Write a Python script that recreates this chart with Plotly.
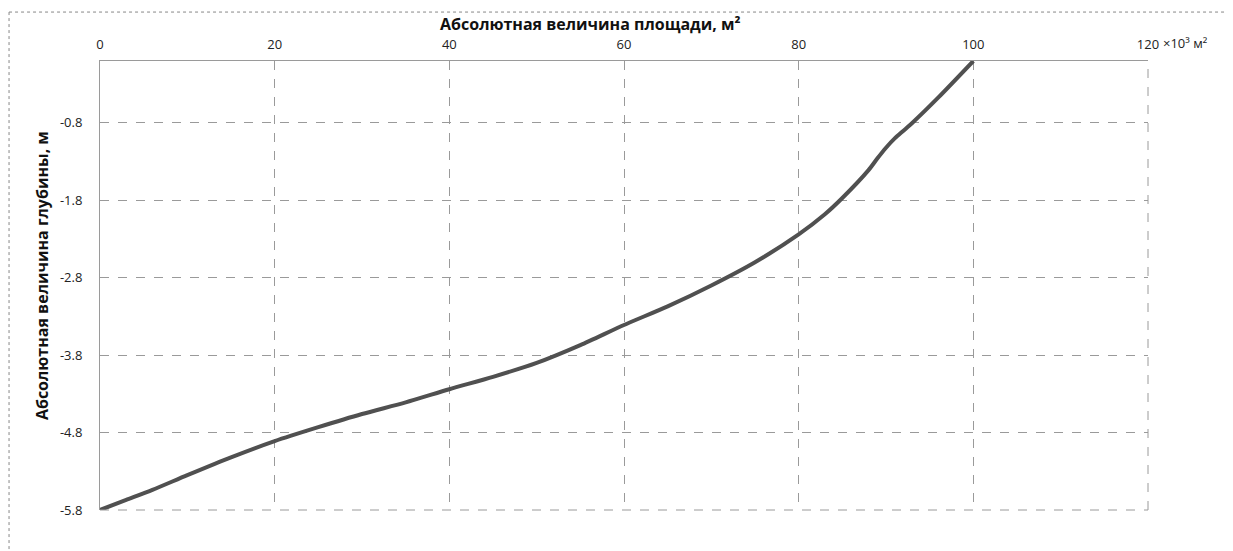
import plotly.graph_objects as go

# Area, thousand m^2
area_k = [0, 3, 6, 10, 15, 20, 25, 30, 35, 40, 45, 50, 55, 60, 65, 70, 75, 80, 83, 85, 88, 89, 90, 91, 92, 93, 96, 100]
# Absolute depth, m
depth = [-5.8, -5.67, -5.54, -5.35, -5.12, -4.91, -4.73, -4.56, -4.41, -4.24, -4.08, -3.90, -3.67,
         -3.41, -3.17, -2.90, -2.60, -2.24, -1.98, -1.77, -1.41, -1.26, -1.12, -1.00, -0.90, -0.80, -0.47, 0.0]

x_ticks = [0, 20, 40, 60, 80, 100, 120]
x_tick_labels = ["0", "20", "40", "60", "80", "100", "120"]
x_unit_label = "×10³ м²"
y_ticks = [-5.8, -4.8, -3.8, -2.8, -1.8, -0.8]
y_tick_labels = ["-5.8", "-4.8", "-3.8", "-2.8", "-1.8", "-0.8"]
x_title = "<b>Абсолютная величина площади, м²</b>"
y_title = "<b>Абсолютная величина глубины, м</b>"

fig = go.Figure()
fig.add_trace(go.Scatter(
    x=area_k, y=depth, mode="lines",
    line=dict(color="#505050", width=4, shape="spline", smoothing=0.7),
    showlegend=False, hoverinfo="skip",
))

fig.update_layout(
    width=1233, height=551,
    margin=dict(l=92, r=93, t=53, b=49),
    paper_bgcolor="white", plot_bgcolor="white",
    font=dict(family="Open Sans, DejaVu Sans, sans-serif", size=13, color="#222222"),
    xaxis=dict(
        side="top", range=[0, 120], tickvals=x_ticks, ticktext=x_tick_labels,
        showgrid=True, gridcolor="#9a9a9a", griddash="dash", gridwidth=1,
        showline=True, linecolor="#9a9a9a", linewidth=1,
        zeroline=False, ticks="", ticklabelstandoff=6,
        tickfont=dict(size=13),
    ),
    yaxis=dict(
        range=[-5.8, 0], tickvals=y_ticks, ticktext=y_tick_labels,
        showgrid=True, gridcolor="#9a9a9a", griddash="dash", gridwidth=1,
        showline=True, linecolor="#9a9a9a", linewidth=1,
        zeroline=False, ticks="", ticklabelstandoff=14,
        tickfont=dict(size=13),
    ),
    annotations=[
        dict(text=x_title, xref="paper", yref="paper", x=0.4676, y=1.0825,
             xanchor="center", yanchor="middle", showarrow=False,
             font=dict(size=16, color="#111111")),
        dict(text=y_title, xref="paper", yref="paper", x=-0.0553, y=0.521, textangle=-90,
             xanchor="center", yanchor="middle", showarrow=False,
             font=dict(size=16, color="#111111")),
        dict(text=x_unit_label, xref="paper", yref="paper", x=1.0125, y=1.040,
             xanchor="left", yanchor="middle", showarrow=False,
             font=dict(size=13, color="#222222")),
    ],
    shapes=[
        dict(type="line", xref="paper", yref="paper", x0=-0.0868, x1=1.09, y0=1.109, y1=1.109,
             line=dict(color="#888888", width=1, dash="dot")),
        dict(type="line", xref="paper", yref="paper", x0=-0.0868, x1=-0.0868, y0=1.109, y1=-0.2,
             line=dict(color="#888888", width=1, dash="dot")),
        dict(type="line", xref="paper", yref="paper", x0=1, x1=1, y0=0, y1=1,
             line=dict(color="#9a9a9a", width=1, dash="dash")),
        dict(type="line", xref="paper", yref="paper", x0=0, x1=1, y0=0, y1=0,
             line=dict(color="#9a9a9a", width=1, dash="dash")),
    ],
)

fig.write_html("out.html")
